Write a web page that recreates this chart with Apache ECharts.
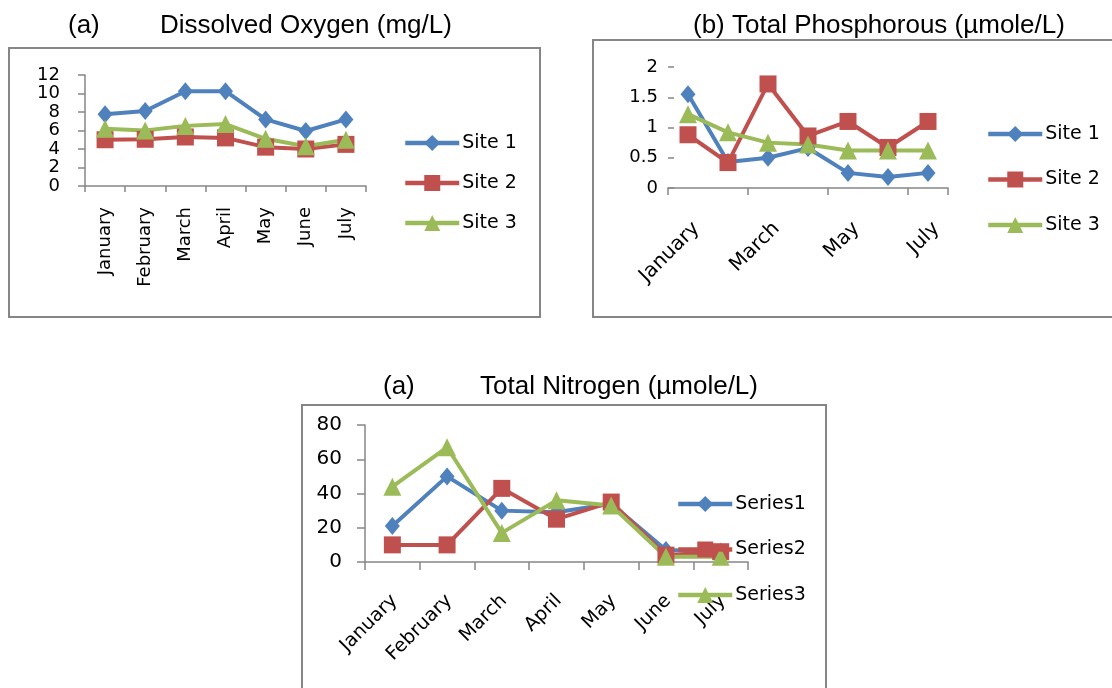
<!DOCTYPE html>
<html>
<head>
<meta charset="utf-8">
<script src="https://cdn.jsdelivr.net/npm/echarts@6/dist/echarts.min.js"></script>
<style>
  html, body { margin: 0; padding: 0; background: #fff; }
  #chart { width: 1112px; height: 688px; }
</style>
</head>
<body>
<div id="chart"></div>
<script>
// Months sampled
const months = ['January', 'February', 'March', 'April', 'May', 'June', 'July'];

// Dissolved oxygen (mg/L)
const doSite1 = [7.75, 8.1, 10.25, 10.25, 7.2, 5.95, 7.2];
const doSite2 = [5.0, 5.05, 5.3, 5.2, 4.2, 4.0, 4.5];
const doSite3 = [6.2, 6.0, 6.5, 6.7, 5.1, 4.3, 5.0];

// Total phosphorous (µmole/L)
const tpSite1 = [1.55, 0.43, 0.5, 0.66, 0.25, 0.18, 0.25];
const tpSite2 = [0.88, 0.42, 1.72, 0.86, 1.1, 0.67, 1.1];
const tpSite3 = [1.22, 0.92, 0.75, 0.72, 0.62, 0.62, 0.62];

// Total nitrogen (µmole/L)
const tnSeries1 = [21, 50, 30, 29, 34, 7, 6];
const tnSeries2 = [10, 10, 43, 25, 35, 4, 6];
const tnSeries3 = [44, 67, 17, 36, 33, 3, 3];

const siteNames = ['Site 1', 'Site 2', 'Site 3'];
const seriesNames = ['Series1', 'Series2', 'Series3'];

const COLORS = ['#4F81BD', '#C0504D', '#9BBB59'];
const SYMBOLS = ['diamond', 'rect', 'triangle'];
const SYMBOL_SIZES = [[15, 18], 17, 18];
const AXIS_GRAY = '#868686';
const LABEL_FONT = 'DejaVu Sans';
const TITLE_FONT = 'Liberation Sans';

function makeLine(name, data, k, axisIdx) {
  return {
    type: 'line',
    name: name,
    data: data,
    xAxisIndex: axisIdx,
    yAxisIndex: axisIdx,
    symbol: SYMBOLS[k],
    symbolSize: SYMBOL_SIZES[k],
    showAllSymbol: true,
    lineStyle: { color: COLORS[k], width: 4 },
    itemStyle: { color: COLORS[k] },
    emphasis: { disabled: true },
    animation: false
  };
}

function catAxis(gridIndex, opts) {
  return Object.assign({
    type: 'category',
    gridIndex: gridIndex,
    data: months,
    boundaryGap: true,
    axisLine: { show: true, lineStyle: { color: AXIS_GRAY, width: 1.5 } },
    axisTick: { show: true, length: 7, lineStyle: { color: AXIS_GRAY, width: 1.5 } },
    splitLine: { show: false }
  }, opts);
}

function valAxis(gridIndex, opts) {
  return Object.assign({
    type: 'value',
    gridIndex: gridIndex,
    splitLine: { show: false },
    axisLine: { show: true, lineStyle: { color: AXIS_GRAY, width: 1.5 } },
    axisTick: { show: true, length: 7, lineStyle: { color: AXIS_GRAY, width: 1.5 } }
  }, opts);
}

function legendAt(names, left, top, gap) {
  return {
    data: names,
    orient: 'vertical',
    left: left,
    top: top,
    padding: 0,
    itemWidth: 54,
    itemHeight: 20,
    itemGap: gap,
    selectedMode: false,
    lineStyle: { width: 4.5 },
    textStyle: { fontFamily: LABEL_FONT, fontSize: 19, color: '#000', lineHeight: 20, padding: [0, 0, 0, -2] }
  };
}

function titleText(text, x, y) {
  return {
    type: 'text',
    x: x,
    y: y,
    style: { text: text, font: '26px "' + TITLE_FONT + '"', fill: '#000', verticalAlign: 'top' }
  };
}

function frame(x, y, w, h) {
  return {
    type: 'rect',
    z: -1,
    shape: { x: x, y: y, width: w, height: h },
    style: { fill: 'none', stroke: AXIS_GRAY, lineWidth: 2 }
  };
}

const chart = echarts.init(document.getElementById('chart'), null, { renderer: 'canvas' });

const option = {
  backgroundColor: '#ffffff',
  animation: false,
  grid: [
    { left: 85, top: 75, width: 281, height: 111 },
    { left: 668, top: 67, width: 280, height: 121 },
    { left: 365, top: 425, width: 383, height: 137 }
  ],
  xAxis: [
    catAxis(0, {
      axisTick: { show: true, length: 6, lineStyle: { color: AXIS_GRAY, width: 1.5 } },
      axisLabel: { interval: 0, rotate: 90, margin: 21, fontFamily: LABEL_FONT, fontSize: 18, color: '#000' }
    }),
    catAxis(1, {
      axisLabel: { interval: 1, rotate: 45, margin: 46, padding: [0, -12, 0, 0], fontFamily: LABEL_FONT, fontSize: 20, color: '#000' }
    }),
    catAxis(2, {
      axisTick: { show: true, length: 8, lineStyle: { color: AXIS_GRAY, width: 1.5 } },
      axisLabel: { interval: 0, rotate: 45, margin: 38, padding: [0, -3, 0, 0], fontFamily: LABEL_FONT, fontSize: 19, color: '#000' }
    })
  ],
  yAxis: [
    valAxis(0, {
      min: 0, max: 12, interval: 2,
      axisLabel: { margin: 25, fontFamily: LABEL_FONT, fontSize: 18, color: '#000' }
    }),
    valAxis(1, {
      min: 0, max: 2, interval: 0.5,
      axisLine: { show: false },
      axisTick: { show: true, inside: true, length: 6, lineStyle: { color: AXIS_GRAY, width: 1.5 } },
      axisLabel: { margin: 10, fontFamily: LABEL_FONT, fontSize: 18, color: '#000' }
    }),
    valAxis(2, {
      min: 0, max: 80, interval: 20,
      axisTick: { show: true, length: 8, lineStyle: { color: AXIS_GRAY, width: 1.5 } },
      axisLabel: { margin: 23, fontFamily: LABEL_FONT, fontSize: 20, color: '#000' }
    })
  ],
  legend: [
    legendAt(siteNames, 403, 133, 20),
    legendAt(siteNames, 986, 124, 25.5),
    legendAt(seriesNames, 676, 494, 25.5)
  ],
  series: [
    makeLine('Site 1', doSite1, 0, 0),
    makeLine('Site 2', doSite2, 1, 0),
    makeLine('Site 3', doSite3, 2, 0),
    makeLine('Site 1', tpSite1, 0, 1),
    makeLine('Site 2', tpSite2, 1, 1),
    makeLine('Site 3', tpSite3, 2, 1),
    makeLine('Series1', tnSeries1, 0, 2),
    makeLine('Series2', tnSeries2, 1, 2),
    makeLine('Series3', tnSeries3, 2, 2)
  ],
  graphic: [
    frame(9, 48, 531, 269),
    frame(593, 40, 600, 277),
    frame(302, 405, 524, 400),
    titleText('(a)', 68, 13),
    titleText('Dissolved Oxygen (mg/L)', 160, 13),
    titleText('(b) Total Phosphorous (\u00b5mole/L)', 693, 13),
    titleText('(a)', 383, 374),
    titleText('Total Nitrogen (\u00b5mole/L)', 480, 374)
  ]
};

chart.setOption(option);
</script>
</body>
</html>
